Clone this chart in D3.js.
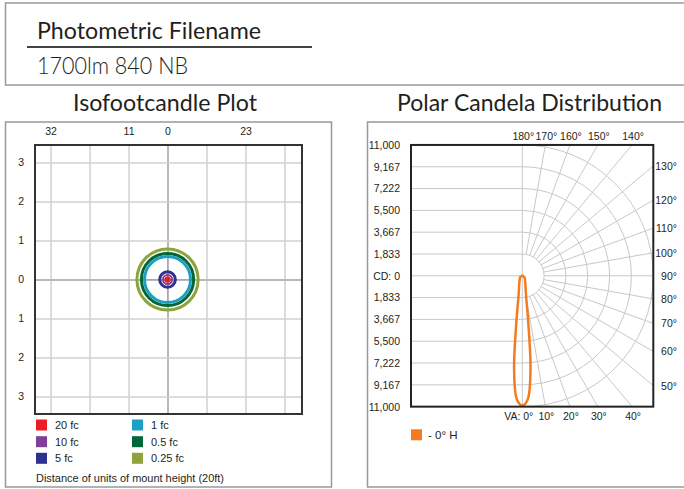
<!DOCTYPE html>
<html>
<head>
<meta charset="utf-8">
<script src="https://cdn.jsdelivr.net/npm/d3@7"></script>
<style>
  html, body { margin: 0; padding: 0; background: #fff; }
  svg { display: block; }
  .tick text { font-family: "Liberation Sans", Arial, sans-serif; }
</style>
</head>
<body>
<svg id="chart" width="684" height="489"></svg>
<script>
// ---------------- DATA ----------------
const headerTitle = "Photometric Filename";
const headerFile = "1700lm 840 NB";
const isoTitle = "Isofootcandle Plot";
const polarTitle = "Polar Candela Distribution";

// Isofootcandle plot
const isoGridTicks = [-3, -2, -1, 0, 1, 2, 3];
const isoTopTickPos = [-3, -1, 0, 2];
const isoTopTickLabels = ["32", "11", "0", "23"];
const isoLevels = ["20 fc", "10 fc", "5 fc", "1 fc", "0.5 fc", "0.25 fc"];
const isoRadii = [0.07, 0.115, 0.2, 0.59, 0.67, 0.785];   // in mount-height units
const isoColors = ["#ed1c24", "#7f3f98", "#2e3192", "#1ba0c3", "#006838", "#8fa33c"];
const isoNote = "Distance of units of mount height (20ft)";

// Polar candela plot
const cdRingValues = [1833, 3667, 5500, 7333, 9167, 11000];
const cdRingLabels = ["1,833", "3,667", "5,500", "7,222", "9,167", "11,000"];
const cdMax = 11000;
const radialAngles = [10, 20, 30, 40, 50, 60, 70, 80, 90, 100, 110, 120, 130, 140, 150, 160, 170];
const bottomAngles = [0, 10, 20, 30, 40];
const rightAngles = [50, 60, 70, 80, 90, 100, 110, 120, 130];
const topAngles = [140, 150, 160, 170, 180];
const vaAngles = [0, 2.5, 5, 7.5, 10, 12.5, 15, 20, 25, 30, 35, 40, 45, 50, 55, 60, 65, 70, 75, 80, 85, 90];
const candela0H = [10900, 10400, 7900, 3700, 1900, 1350, 1050, 760, 580, 460, 390, 330, 290, 250, 210, 170, 130, 95, 60, 30, 10, 0];
const seriesName = "- 0\u00b0 H";
const seriesColor = "#f47b20";

// ---------------- DRAW ----------------
const svg = d3.select("#chart");
const tickFont = '"Liberation Sans", Arial, sans-serif';
const titleFont = 'Lato, "Open Sans", sans-serif';
const textColor = "#231f20";
const tickSize = 10.5;

// Boxes
svg.append("rect").attr("x", 5.5).attr("y", 3).attr("width", 720).attr("height", 82)
  .attr("fill", "none").attr("stroke", "#999").attr("stroke-width", 1.5);
svg.append("rect").attr("x", 5.5).attr("y", 122).attr("width", 326).attr("height", 365)
  .attr("fill", "none").attr("stroke", "#999").attr("stroke-width", 1.5);
svg.append("rect").attr("x", 367.5).attr("y", 122).attr("width", 400).attr("height", 365)
  .attr("fill", "none").attr("stroke", "#999").attr("stroke-width", 1.5);

// Header
svg.append("text").attr("x", 37).attr("y", 39).text(headerTitle)
  .attr("font-family", titleFont).attr("font-size", 24).attr("fill", textColor)
  .attr("textLength", 224).attr("lengthAdjust", "spacingAndGlyphs");
svg.append("line").attr("x1", 27).attr("x2", 312).attr("y1", 47).attr("y2", 47)
  .attr("stroke", "#444").attr("stroke-width", 2);
svg.append("text").attr("x", 37).attr("y", 74).text(headerFile)
  .attr("font-family", titleFont).attr("font-weight", 300).attr("font-size", 24).attr("fill", textColor)
  .attr("textLength", 151).attr("lengthAdjust", "spacingAndGlyphs");
svg.append("text").attr("x", 73).attr("y", 111).text(isoTitle)
  .attr("font-family", titleFont).attr("font-size", 24).attr("fill", textColor)
  .attr("textLength", 184).attr("lengthAdjust", "spacingAndGlyphs");
svg.append("text").attr("x", 397).attr("y", 111).text(polarTitle)
  .attr("font-family", titleFont).attr("font-size", 24).attr("fill", textColor)
  .attr("textLength", 265).attr("lengthAdjust", "spacingAndGlyphs");

// ===== Isofootcandle plot =====
const ix = d3.scaleLinear().domain([-3.4, 3.45]).range([35, 302]);
const iy = d3.scaleLinear().domain([3.45, -3.45]).range([145, 414]);
const iso = svg.append("g");

// grid via axes
const gx = iso.append("g").attr("transform", `translate(0,${iy.range()[1]})`)
  .call(d3.axisBottom(ix).tickValues(isoGridTicks).tickSize(-(iy.range()[1] - iy.range()[0])).tickFormat(""));
const gy = iso.append("g").attr("transform", `translate(${ix.range()[0]},0)`)
  .call(d3.axisLeft(iy).tickValues(isoGridTicks).tickSize(-(ix.range()[1] - ix.range()[0])).tickFormat(""));
[gx, gy].forEach(g => {
  g.select(".domain").remove();
  g.selectAll(".tick line").attr("stroke", d => d === 0 ? "#b8b8b8" : "#d0d0d0").attr("stroke-width", d => d === 0 ? 2 : 1.5);
});

// left labels
const ly = iso.append("g").attr("transform", `translate(${ix.range()[0] - 8},0)`)
  .call(d3.axisLeft(iy).tickValues(isoGridTicks).tickSize(0).tickFormat(d => Math.abs(d)));
ly.select(".domain").remove();
ly.selectAll("text").attr("font-size", tickSize).attr("font-family", tickFont).attr("fill", textColor);

// top labels
const ty = iso.append("g").attr("transform", `translate(0,${iy.range()[0] - 7})`)
  .call(d3.axisTop(ix).tickValues(isoTopTickPos).tickSize(0).tickFormat((d, i) => isoTopTickLabels[i]));
ty.select(".domain").remove();
ty.selectAll("text").attr("font-size", tickSize).attr("font-family", tickFont).attr("fill", textColor);

// crosshair
const unitPx = ix(1) - ix(0);
const crossLen = isoRadii[3];
iso.append("line").attr("x1", ix(-crossLen)).attr("x2", ix(crossLen)).attr("y1", iy(0)).attr("y2", iy(0))
  .attr("stroke", "#ec8a92").attr("stroke-width", 1);
iso.append("line").attr("x1", ix(0)).attr("x2", ix(0)).attr("y1", iy(crossLen)).attr("y2", iy(-crossLen))
  .attr("stroke", "#ec8a92").attr("stroke-width", 1);

// contour circles (draw outermost first)
const isoData = isoLevels.map((l, i) => ({ level: l, r: isoRadii[i], color: isoColors[i], i }));
iso.selectAll("circle.iso").data(isoData.slice().reverse()).enter().append("circle")
  .attr("class", "iso")
  .attr("cx", ix(0)).attr("cy", iy(0))
  .attr("r", d => d.r * unitPx)
  .attr("fill", d => d.i === 0 ? d.color : "none")
  .attr("stroke", d => d.color)
  .attr("stroke-width", d => d.i === 0 ? 1 : (d.i === 1 ? 2 : 3));

// plot border
iso.append("rect").attr("x", ix.range()[0]).attr("y", iy.range()[0])
  .attr("width", ix.range()[1] - ix.range()[0]).attr("height", iy.range()[1] - iy.range()[0])
  .attr("fill", "none").attr("stroke", "#333").attr("stroke-width", 2);

// legend
const legCols = [36, 132];
const legRows = [425, 441.7, 458.3];
const leg = iso.selectAll("g.leg").data(isoData).enter().append("g").attr("class", "leg")
  .attr("transform", (d, i) => `translate(${legCols[Math.floor(i / 3)]},${legRows[i % 3]})`);
leg.append("rect").attr("x", 0).attr("y", -5.5).attr("width", 11).attr("height", 11).attr("fill", d => d.color);
leg.append("text").attr("x", 19).attr("y", 4).text(d => d.level)
  .attr("font-family", tickFont).attr("font-size", 11).attr("fill", textColor);
iso.append("text").attr("x", 36).attr("y", 482).text(isoNote)
  .attr("font-family", tickFont).attr("font-size", 11).attr("fill", textColor)
  .attr("textLength", 188).attr("lengthAdjust", "spacingAndGlyphs");

// ===== Polar candela plot =====
const cx = 522.3, cy = 275.8;
const rS = d3.scaleLinear().domain([0, cdMax]).range([0, 130.85]);
const px0 = 411, px1 = 653.3;
const py0 = cy - rS(cdMax), py1 = cy + rS(cdMax);
const pol = svg.append("g");
svg.append("defs").append("clipPath").attr("id", "pclip").append("rect")
  .attr("x", px0).attr("y", py0).attr("width", px1 - px0).attr("height", py1 - py0);
const grid = pol.append("g").attr("clip-path", "url(#pclip)")
  .attr("stroke", "#c8c8c8").attr("stroke-width", 1).attr("fill", "none");

// horizontal lines on left side
const ringLevels = [0].concat(cdRingValues);
grid.selectAll("line.hup").data(ringLevels).enter().append("line")
  .attr("x1", px0).attr("x2", cx).attr("y1", d => cy - rS(d)).attr("y2", d => cy - rS(d));
grid.selectAll("line.hdn").data(cdRingValues).enter().append("line")
  .attr("x1", px0).attr("x2", cx).attr("y1", d => cy + rS(d)).attr("y2", d => cy + rS(d));
// vertical 0/180 line
grid.append("line").attr("x1", cx).attr("x2", cx).attr("y1", py0).attr("y2", py1);
// arcs (right half)
grid.selectAll("path.ring").data(cdRingValues).enter().append("path")
  .attr("d", d => { const p = d3.path(); p.arc(cx, cy, rS(d), -Math.PI / 2, Math.PI / 2); return p.toString(); });
// radial lines
const rad = a => a * Math.PI / 180;
grid.selectAll("line.rad").data(radialAngles).enter().append("line")
  .attr("x1", a => cx + rS(cdRingValues[0]) * Math.sin(rad(a)))
  .attr("y1", a => cy + rS(cdRingValues[0]) * Math.cos(rad(a)))
  .attr("x2", a => cx + 400 * Math.sin(rad(a)))
  .attr("y2", a => cy + 400 * Math.cos(rad(a)));

// candela curve
const pts = [];
for (let i = vaAngles.length - 1; i > 0; i--) pts.push([-vaAngles[i], candela0H[i]]);
for (let i = 0; i < vaAngles.length; i++) pts.push([vaAngles[i], candela0H[i]]);
const radial = d3.lineRadial()
  .angle(d => Math.PI - rad(d[0]))
  .radius(d => rS(d[1]))
  .curve(d3.curveCatmullRomClosed);
pol.append("path").attr("transform", `translate(${cx},${cy})`)
  .attr("d", radial(pts)).attr("fill", "none").attr("stroke", seriesColor).attr("stroke-width", 2.5);

// border
pol.append("rect").attr("x", px0).attr("y", py0).attr("width", px1 - px0).attr("height", py1 - py0)
  .attr("fill", "none").attr("stroke", "#222").attr("stroke-width", 2);

// left labels via axis
const cdTickVals = [cdMax].concat(cdRingValues.slice(0, -1).reverse(), [0], cdRingValues.map(v => -v));
const cdY = d3.scaleLinear().domain([-cdMax, cdMax]).range([py1, py0]);
const cdLabel = v => v === 0 ? "CD: 0" : cdRingLabels[cdRingValues.indexOf(Math.abs(v))];
const cdAxis = pol.append("g").attr("transform", `translate(${px0 - 8},0)`)
  .call(d3.axisLeft(cdY).tickValues(cdTickVals).tickSize(0).tickFormat(cdLabel));
cdAxis.select(".domain").remove();
cdAxis.selectAll("text").attr("font-size", tickSize).attr("font-family", tickFont).attr("fill", textColor);

// angle labels
const lab = pol.append("g").attr("font-family", tickFont).attr("font-size", tickSize).attr("fill", textColor);
lab.selectAll("text.bot").data(bottomAngles).enter().append("text")
  .attr("x", a => a === 0 ? cx + 11 : cx + rS(cdMax) * Math.tan(rad(a)) + 1)
  .attr("y", py1 + 13)
  .attr("text-anchor", a => a === 0 ? "end" : "middle")
  .text(a => a === 0 ? "VA: 0\u00b0" : a + "\u00b0");
lab.selectAll("text.top").data(topAngles).enter().append("text")
  .attr("x", a => cx - rS(cdMax) * Math.tan(rad(a)) + 1)
  .attr("y", py0 - 5)
  .attr("text-anchor", "middle")
  .text(a => a + "\u00b0");
lab.selectAll("text.rt").data(rightAngles).enter().append("text")
  .attr("x", 677)
  .attr("y", a => cy + (px1 - cx) / Math.tan(rad(a)) + 4)
  .attr("text-anchor", "end")
  .text(a => a + "\u00b0");

// polar legend
pol.append("rect").attr("x", 411).attr("y", 429.3).attr("width", 11).attr("height", 11).attr("fill", seriesColor);
pol.append("text").attr("x", 428).attr("y", 439).text(seriesName)
  .attr("font-family", tickFont).attr("font-size", 11.5).attr("fill", textColor);
</script>
</body>
</html>
